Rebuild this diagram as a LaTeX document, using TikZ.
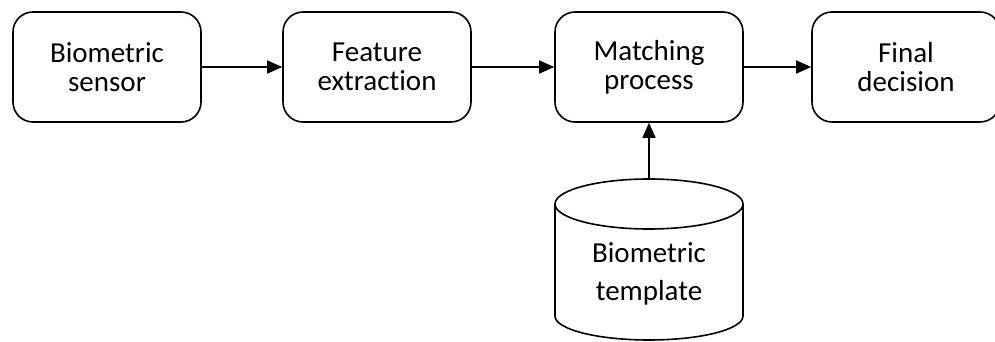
\documentclass[tikz,border=0pt]{standalone}
\usepackage{fontspec}
\setmainfont{Carlito}[Ligatures={NoCommon}]
\usetikzlibrary{arrows.meta}
\begin{document}
\begin{tikzpicture}[x=1pt,y=-1pt,
  box/.style={draw,line width=1.6pt,rounded corners=20pt,minimum width=188pt,minimum height=110pt,
    align=center,font=\fontsize{29}{29}\selectfont,inner sep=0pt},
  conn/.style={line width=1.4pt,-{Triangle[length=15pt,width=13pt]}},
  lbl/.style={align=center,font=\fontsize{29}{38}\selectfont,inner sep=0pt},
  cyl/.style={line width=1.6pt}]
\useasboundingbox (0,0) rectangle (995,342);
\node[box] (sensor) at (107,67) {Biometric\\sensor};
\node[box] (feature) at (377,67) {Feature\\extraction};
\node[box] (match) at (649,67) {Matching\\process};
\node[box] (decision) at (906,67) {Final\\decision};
% cylinder
\draw[cyl] (555,204) arc[start angle=180,end angle=0,x radius=94,y radius=25];
\draw[cyl] (555,204) arc[start angle=180,end angle=360,x radius=94,y radius=25];
\draw[cyl] (555,204) -- (555,316) arc[start angle=180,end angle=0,x radius=94,y radius=24] -- (743,204);
\coordinate (dbtop) at (649,179);
\node[lbl] (template) at (649,274) {Biometric\\template};
\draw[conn] (sensor) -- (feature);
\draw[conn] (feature) -- (match);
\draw[conn] (match) -- (decision);
\draw[conn] (dbtop) -- (match);
\end{tikzpicture}
\end{document}
